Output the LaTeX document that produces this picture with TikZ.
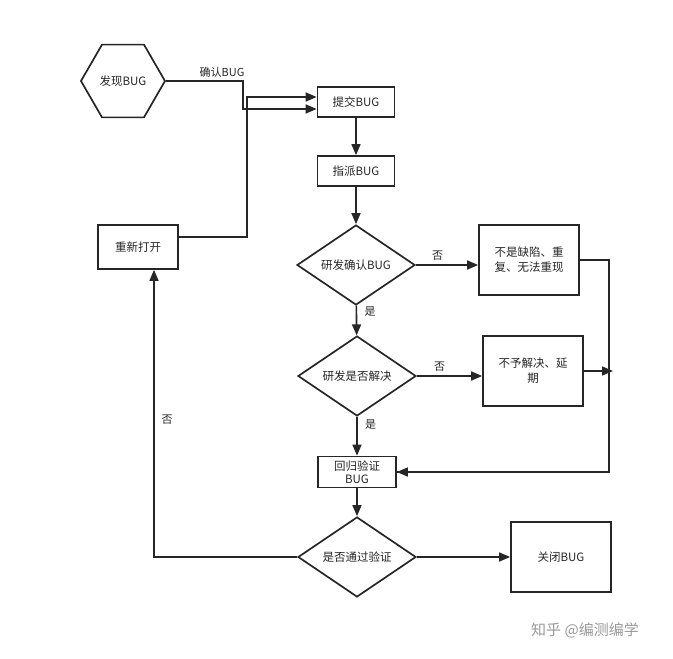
\documentclass[tikz,border=0pt]{standalone}
\usepackage{fontspec}
\setmainfont{Noto Sans CJK SC}
\usetikzlibrary{shapes.geometric,arrows.meta}
\begin{document}
\begin{tikzpicture}[x=1pt,y=-1pt,
  every node/.style={font=\fontsize{11.5}{15}\selectfont, text=black!85},
  box/.style={draw=black!85, line width=1.7pt, align=center, inner sep=1pt},
  dia/.style={draw=black!85, line width=1.7pt, diamond, aspect=1.475, minimum width=118pt, minimum height=80pt, inner sep=0pt},
  lab/.style={font=\fontsize{11}{12}\selectfont},
  ar/.style={draw=black!85, line width=1.6pt, -{Triangle[length=11pt,width=9pt]}},
  ln/.style={draw=black!85, line width=1.6pt}]
\useasboundingbox (0,0) rectangle (673,659);
\node[box, regular polygon, regular polygon sides=6, minimum size=84pt, inner sep=0pt] (find) at (123,81) {发现BUG};
\node[box, minimum width=77pt, minimum height=30pt] (sub) at (356,102) {提交BUG};
\node[box, minimum width=77pt, minimum height=30pt] (asg) at (356,171) {指派BUG};
\node[dia] (d1) at (356,265) {研发确认BUG};
\node[box, minimum width=100pt, minimum height=70pt] (nb) at (529,260) {不是缺陷、重\\复、无法重现};
\node[dia] (d2) at (357,376) {研发是否解决};
\node[box, minimum width=100pt, minimum height=70pt] (nf) at (533,371) {不予解决、延\\期};
\node[box, minimum width=78pt, minimum height=31pt, font=\fontsize{11.5}{13}\selectfont] (rv) at (357,472) {回归验证\\BUG};
\node[dia] (d3) at (357,557) {是否通过验证};
\node[box, minimum width=100pt, minimum height=70pt] (cl) at (561,557) {关闭BUG};
\node[box, minimum width=80pt, minimum height=44pt] (ro) at (138,247) {重新打开};
\coordinate (c1) at (243,81);
\coordinate (c2) at (247,237);
\coordinate (c3) at (609,260);
\coordinate (c4) at (613,371);
\coordinate (c5) at (154,557);
\draw[ar] (find.east) -- (c1) |- ([yshift=-7pt]sub.west);
\node[lab] at (222,72) {确认BUG};
\draw[ar] (ro.east |- c2) -- (c2) |- ([yshift=5pt]sub.west);
\draw[ar] (sub) -- (asg);
\draw[ar] (asg) -- (d1);
\draw[ar] (d1) -- node[lab, above, pos=0.35] {否} (d1.east -| nb.west);
\draw[ar] (d1) -- node[lab, right, pos=0.2, xshift=4pt] {是} (d2);
\draw[ar] (d2) -- node[lab, above, pos=0.35] {否} (d2.east -| nf.west);
\draw[ar] (d2) -- node[lab, right, pos=0.2, xshift=4pt] {是} (rv);
\draw[ar] (rv) -- (d3);
\draw[ar] (d3) -- (cl);
\draw[ln] (nb.east) -- (c3) |- (rv.east) ;
\draw[ar] (rv.east -| c3) -- (rv.east);
\draw[ar] (nf.east) -- (c4);
\draw[ar] (d3.west) -- (c5) -- (ro.south -| c5);
\node[lab] at (167,420) {否};
\node[text=black!40, font=\fontsize{15}{16}\selectfont] (wm) at (585,630) {知乎 @编测编学};
\end{tikzpicture}
\end{document}
